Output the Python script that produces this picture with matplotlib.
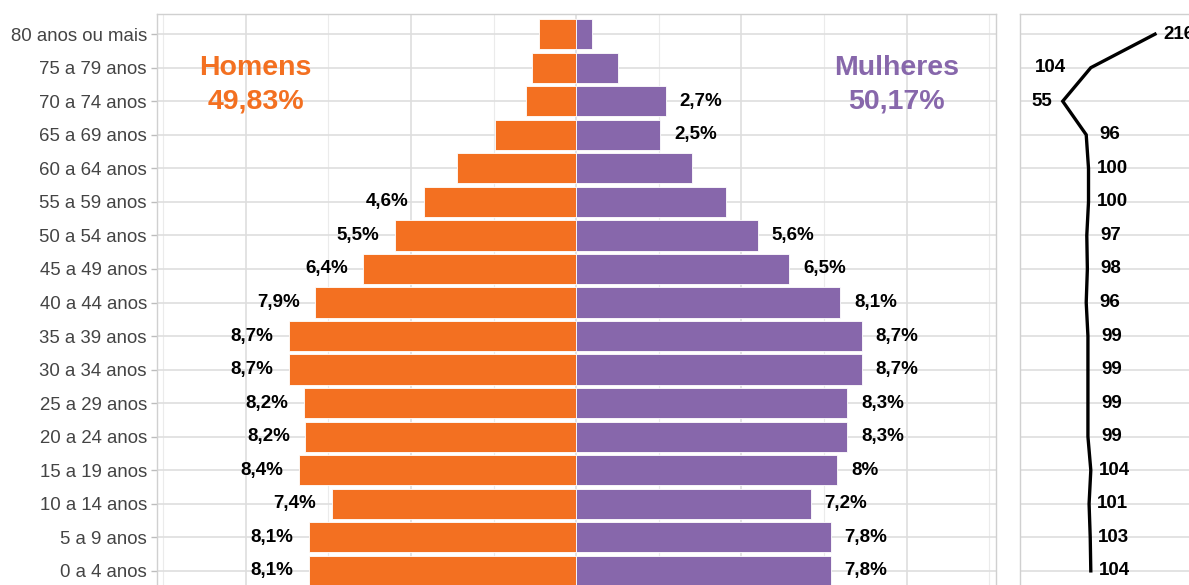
import matplotlib

matplotlib.use("Agg")
import matplotlib.pyplot as plt  # noqa: E402

plt.rcParams["font.family"] = ["Liberation Sans", "DejaVu Sans"]

# age groups, youngest first (bottom of the pyramid)
age_groups = [
    "0 a 4 anos", "5 a 9 anos", "10 a 14 anos", "15 a 19 anos", "20 a 24 anos",
    "25 a 29 anos", "30 a 34 anos", "35 a 39 anos", "40 a 44 anos", "45 a 49 anos",
    "50 a 54 anos", "55 a 59 anos", "60 a 64 anos", "65 a 69 anos", "70 a 74 anos",
    "75 a 79 anos", "80 anos ou mais",
]
# share of each sex by age group (%)
men_pct = [8.1, 8.1, 7.4, 8.4, 8.2, 8.25, 8.7, 8.7, 7.9, 6.45, 5.5, 4.6, 3.6, 2.45, 1.52, 1.35, 1.12]
women_pct = [7.7, 7.7, 7.1, 7.9, 8.2, 8.2, 8.65, 8.65, 8.0, 6.45, 5.5, 4.55, 3.5, 2.54, 2.71, 1.26, 0.48]
men_labels = ["8,1%", "8,1%", "7,4%", "8,4%", "8,2%", "8,2%", "8,7%", "8,7%", "7,9%",
              "6,4%", "5,5%", "4,6%", None, None, None, None, None]
women_labels = ["7,8%", "7,8%", "7,2%", "8%", "8,3%", "8,3%", "8,7%", "8,7%", "8,1%",
                "6,5%", "5,6%", None, None, "2,5%", "2,7%", None, None]
# men per 100 women
sex_ratio = [104, 103, 101, 104, 99, 99, 99, 99, 96, 98, 97, 100, 100, 96, 55, 104, 216]
men_total = "49,83%"
women_total = "50,17%"

ORANGE = "#F37021"
PURPLE = "#8767AB"
GRID_MAJOR = "#DEDEDE"
GRID_MINOR = "#EBEBEB"
FRAME = "#D0D0D0"

W, H = 1189, 585
fig = plt.figure(figsize=(W / 100, H / 100), dpi=100)

# panels are wider/taller than the visible frame, like the cropped original
top_px, bottom_px = 14, 591
ax = fig.add_axes([156.7 / W, 1 - bottom_px / H, (995.7 - 156.7) / W, (bottom_px - top_px) / H])
ax2 = fig.add_axes([1020 / W, 1 - bottom_px / H, 210 / W, (bottom_px - top_px) / H])

ypos = list(range(len(age_groups)))

# --- pyramid ---
ax.barh(ypos, [-v for v in men_pct], height=0.9, color=ORANGE, edgecolor="white", linewidth=0.6, zorder=3)
ax.barh(ypos, women_pct, height=0.9, color=PURPLE, edgecolor="white", linewidth=0.6, zorder=3)

for y, v, lab in zip(ypos, men_pct, men_labels):
    if lab:
        ax.annotate(lab, (-v, y), xytext=(-11, 0), textcoords="offset points",
                    ha="right", va="center", fontsize=13.5, fontweight="bold", color="black")
for y, v, lab in zip(ypos, women_pct, women_labels):
    if lab:
        ax.annotate(lab, (v, y), xytext=(10, 0), textcoords="offset points",
                    ha="left", va="center", fontsize=13.5, fontweight="bold", color="black")

ax.text(-9.7, 15, "Homens", ha="center", va="center", fontsize=20.5, fontweight="bold", color=ORANGE)
ax.text(-9.7, 14, men_total, ha="center", va="center", fontsize=20.5, fontweight="bold", color=ORANGE)
ax.text(9.7, 15, "Mulheres", ha="center", va="center", fontsize=20.5, fontweight="bold", color=PURPLE)
ax.text(9.7, 14, women_total, ha="center", va="center", fontsize=20.5, fontweight="bold", color=PURPLE)

ax.set_xlim(-12.7, 12.7)
ax.set_ylim(-0.6, len(age_groups) - 0.4)
ax.set_yticks(ypos)
ax.set_yticklabels(age_groups)
ax.set_xticks([-10, -5, 0, 5, 10])
ax.set_xticks([-12.5, -7.5, -2.5, 2.5, 7.5, 12.5], minor=True)
ax.tick_params(axis="x", which="both", length=0, labelbottom=False)
ax.tick_params(axis="y", length=4, width=1, color="#BDBDBD", pad=3,
               labelsize=13.4, labelcolor="#444444")
ax.grid(True, which="major", color=GRID_MAJOR, linewidth=1.2, zorder=0)
ax.grid(True, which="minor", axis="x", color=GRID_MINOR, linewidth=0.8, zorder=0)
ax.set_axisbelow(True)

# --- sex ratio line ---
ax2.plot(sex_ratio, ypos, color="black", linewidth=2.4, solid_joinstyle="miter", zorder=3)
ratio_dx = [17] * len(sex_ratio)
ratio_dx[14] = -15  # 70 a 74
ratio_dx[15] = -29  # 75 a 79
for y, v, dx in zip(ypos, sex_ratio, ratio_dx):
    ax2.annotate(str(v), (v, y), xytext=(dx, 0), textcoords="offset points",
                 ha="center", va="center", fontsize=13.5, fontweight="bold",
                 color="black", annotation_clip=False)
ax2.set_xlim(-19.5, -19.5 + 210 / 0.5733)
ax2.set_ylim(-0.6, len(age_groups) - 0.4)
ax2.set_yticks(ypos)
ax2.set_xticks([])
ax2.tick_params(axis="y", length=0, labelleft=False)
ax2.grid(True, axis="y", color=GRID_MAJOR, linewidth=1.2, zorder=0)
ax2.set_axisbelow(True)

for a in (ax, ax2):
    for s in a.spines.values():
        s.set_color(FRAME)
        s.set_linewidth(1.0)

fig.savefig("out.png", dpi=100)
